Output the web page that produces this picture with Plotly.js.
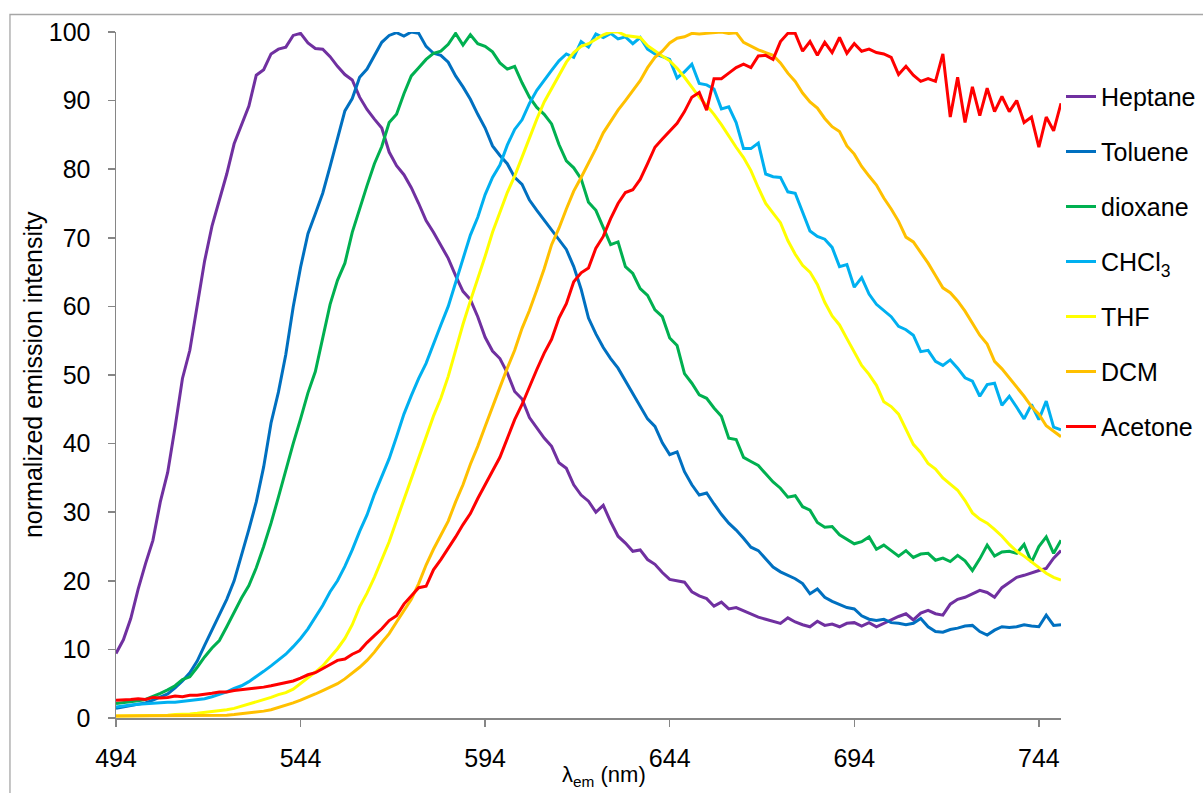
<!DOCTYPE html>
<html>
<head>
<meta charset="utf-8">
<script src="https://cdn.plot.ly/plotly-3.0.1.min.js"></script>
<style>
html,body{margin:0;padding:0;background:#fff;}
#chart{width:1203px;height:793px;}
</style>
</head>
<body>
<div id="chart"></div>
<script>
const wavelength = [
494,496,498,500,502,504,506,508,510,512,
514,516,518,520,522,524,526,528,530,532,
534,536,538,540,542,544,546,548,550,552,
554,556,558,560,562,564,566,568,570,572,
574,576,578,580,582,584,586,588,590,592,
594,596,598,600,602,604,606,608,610,612,
614,616,618,620,622,624,626,628,630,632,
634,636,638,640,642,644,646,648,650,652,
654,656,658,660,662,664,666,668,670,672,
674,676,678,680,682,684,686,688,690,692,
694,696,698,700,702,704,706,708,710,712,
714,716,718,720,722,724,726,728,730,732,
734,736,738,740,742,744,746,748,750];

const heptane = [
9.4,11.4,14.5,18.8,22.5,25.9,31.5,35.8,42.4,49.5,
53.6,60.0,66.6,71.7,75.5,79.3,83.7,86.6,89.2,93.7,
94.5,96.8,97.5,97.8,99.5,99.8,98.4,97.6,97.5,96.4,
95.0,93.8,93.0,90.5,88.7,87.3,86.0,82.5,80.5,79.2,
77.3,75.0,72.5,70.8,68.8,67.0,64.5,62.2,61.0,58.5,
55.5,53.5,52.4,50.3,47.6,46.5,43.8,42.3,40.8,39.6,
37.2,36.4,34.0,32.5,31.6,30.0,31.0,28.6,26.5,25.5,
24.3,24.5,23.1,22.4,21.2,20.2,20.0,19.8,18.4,17.8,
17.4,16.3,16.9,15.9,16.1,15.6,15.1,14.7,14.4,14.1,
13.8,14.6,14.0,13.6,13.3,14.1,13.5,13.7,13.3,13.8,
13.9,13.4,13.9,13.3,13.8,14.4,14.8,15.2,14.3,15.3,
15.7,15.2,15.0,16.6,17.3,17.6,18.1,18.6,18.3,17.6,
19.0,19.7,20.5,20.8,21.2,21.5,21.8,23.3,24.4];

const toluene = [
1.4,1.6,1.8,2.0,2.2,2.6,3.0,3.5,4.4,5.4,
6.6,8.3,10.6,12.9,15.0,17.3,20.0,23.6,27.5,31.5,
36.6,43.0,47.5,53.0,59.9,65.7,70.6,73.5,76.5,80.4,
84.3,88.5,90.3,93.4,94.6,96.6,98.5,99.5,99.9,99.4,
100,99.8,97.9,96.9,96.6,95.6,93.6,92.0,90.2,88.0,
86.0,83.4,82.0,80.8,78.8,77.8,75.5,74.0,72.6,71.2,
69.7,68.3,65.8,62.5,58.3,56.0,54.0,52.4,51.0,49.2,
47.2,45.6,43.6,42.5,40.1,38.4,38.8,35.9,34.0,32.5,
32.8,31.2,29.7,28.4,27.4,26.2,24.9,24.4,23.2,22.0,
21.3,20.8,20.3,19.6,18.1,18.8,17.6,17.0,16.5,16.1,
15.9,14.9,14.4,14.2,14.4,13.9,13.8,13.6,13.8,14.5,
13.3,12.6,12.5,12.9,13.1,13.4,13.5,12.6,12.1,12.8,
13.3,13.2,13.3,13.6,13.4,13.3,15.0,13.5,13.6];

const dioxane = [
2.1,2.2,2.3,2.5,2.7,3.1,3.6,4.1,4.7,5.6,
6.0,7.4,8.9,10.2,11.3,13.3,15.5,17.5,19.3,21.9,
25.0,28.4,32.2,36.2,40.0,43.6,47.4,50.5,55.5,60.3,
63.8,66.3,70.8,74.3,77.6,80.8,83.3,86.8,88.0,91.0,
93.6,94.8,96.0,96.9,97.2,98.2,99.8,98.1,99.6,98.3,
97.9,97.1,95.5,94.6,95.0,92.6,90.5,89.0,88.0,86.6,
83.6,81.2,80.2,78.6,75.2,74.0,71.4,69.0,69.4,65.8,
64.8,62.6,61.6,59.5,58.5,55.4,54.3,50.2,48.8,47.1,
46.6,45.2,44.0,40.8,40.6,38.0,37.4,36.8,35.6,34.4,
33.5,32.2,32.4,30.8,30.3,28.5,27.8,27.9,26.7,26.0,
25.4,25.7,26.4,24.6,25.2,24.4,23.6,24.4,23.4,23.9,
24.0,23.0,23.3,22.8,23.7,22.9,21.5,23.2,25.2,23.6,
24.2,24.3,24.0,25.3,22.7,25.0,26.4,24.0,25.9];

const chcl3 = [
1.6,1.8,1.9,2.0,2.1,2.1,2.2,2.3,2.3,2.4,
2.5,2.6,2.8,3.1,3.4,3.8,4.3,4.7,5.3,6.0,
6.8,7.6,8.4,9.3,10.4,11.6,13.0,14.7,16.4,18.4,
20.0,22.1,24.5,27.2,29.6,32.6,35.2,37.8,41.0,44.3,
47.0,49.5,51.7,54.6,57.3,60.0,63.4,67.0,70.4,73.0,
76.3,78.8,80.6,83.5,85.8,87.2,89.6,91.5,93.0,94.4,
95.8,96.8,96.3,98.6,97.8,99.7,99.2,99.8,99.0,99.3,
98.3,99.2,97.5,96.8,96.4,96.0,93.3,94.2,95.3,92.5,
92.3,91.7,88.8,89.1,86.8,83.0,83.0,83.8,79.3,78.9,
78.8,76.7,76.5,73.7,71.0,70.2,69.8,68.6,65.8,66.1,
62.8,64.2,61.8,60.3,59.4,58.5,57.1,56.6,55.8,53.4,
53.6,52.0,51.4,52.2,51.0,49.6,49.1,46.9,48.6,48.8,
45.6,46.9,45.3,43.6,45.7,43.5,46.2,42.4,42.0];

const thf = [
0.3,0.3,0.3,0.3,0.3,0.35,0.4,0.4,0.5,0.5,
0.6,0.7,0.8,0.9,1.0,1.2,1.4,1.7,2.0,2.3,
2.6,3.0,3.4,3.7,4.2,5.0,5.8,6.7,7.6,8.8,
10.1,11.6,13.6,16.2,18.2,20.5,23.2,25.7,28.8,31.8,
34.8,38.0,41.0,44.0,46.6,49.8,53.6,57.4,60.8,64.0,
67.3,70.8,73.8,76.6,79.0,81.8,84.7,87.3,89.8,91.8,
93.8,95.6,97.0,97.9,98.3,99.0,99.6,100,100,99.5,
99.3,99.2,98.0,97.2,96.5,95.8,94.7,93.4,92.0,90.5,
89.3,88.0,86.5,84.8,83.2,81.7,79.8,77.3,75.0,73.6,
72.2,69.6,67.6,66.0,65.0,63.2,60.6,58.6,57.3,55.3,
53.4,51.4,50.1,48.5,46.1,45.4,44.3,42.2,39.9,38.7,
37.1,36.3,35.0,34.1,33.2,31.7,29.9,29.0,28.4,27.5,
26.5,25.3,24.3,23.6,22.8,22.0,21.1,20.5,20.1];

const dcm = [
0.3,0.3,0.3,0.3,0.3,0.3,0.3,0.3,0.3,0.35,
0.35,0.35,0.35,0.35,0.4,0.4,0.5,0.6,0.7,0.85,
1.0,1.2,1.5,1.8,2.2,2.6,3.0,3.5,4.0,4.5,
5.0,5.7,6.5,7.4,8.4,9.6,11.0,12.3,14.0,15.6,
17.3,19.6,22.3,24.6,26.7,28.7,31.5,34.0,37.0,39.6,
42.5,45.5,48.2,51.0,53.6,56.8,59.4,62.4,65.5,69.0,
71.4,74.2,76.8,78.8,80.8,83.0,85.3,87.0,88.6,90.0,
91.5,92.9,94.8,96.3,97.2,98.4,99.1,99.3,99.8,99.7,
99.8,99.9,100,99.8,99.9,98.5,97.9,97.4,97.0,96.6,
95.5,94.0,92.8,91.1,89.8,88.9,87.4,86.2,85.5,83.4,
82.2,80.4,79.0,77.7,75.8,74.2,72.4,70.1,69.4,67.8,
66.3,64.5,62.7,62.0,60.8,59.3,57.5,55.8,54.5,52.0,
50.9,49.6,48.3,46.9,45.4,44.3,42.6,41.8,41.0];

const acetone = [
2.6,2.6,2.7,2.8,2.7,3.0,2.9,3.0,3.2,3.1,
3.3,3.3,3.4,3.6,3.8,3.8,4.0,4.1,4.3,4.4,
4.5,4.7,4.9,5.1,5.4,5.8,6.3,6.6,7.2,7.7,
8.4,8.6,9.3,9.8,11.0,12.0,13.0,14.2,14.9,16.6,
17.8,19.0,19.2,21.6,23.1,24.7,26.4,28.2,29.8,32.0,
33.9,36.0,38.0,40.7,43.5,45.7,48.3,50.8,53.2,55.2,
58.3,60.4,63.6,64.9,65.6,68.5,70.2,72.8,75.0,76.6,
77.0,78.5,80.8,83.2,84.4,85.6,86.7,88.4,90.5,91.2,
88.6,93.2,93.2,94.0,94.8,95.3,94.8,96.5,96.6,96.0,
98.6,99.8,99.8,97.2,98.6,96.6,98.5,97.0,99.2,96.9,
98.3,97.2,97.5,97.0,96.8,96.3,93.8,95.0,93.7,92.8,
93.2,92.8,96.8,87.6,93.4,86.8,92.0,87.8,91.8,88.4,
90.6,88.4,90.0,86.8,87.6,83.2,87.6,85.6,89.6];

const seriesNames = ['Heptane','Toluene','dioxane','CHCl<sub>3</sub>','THF','DCM','Acetone'];
const seriesData = [heptane, toluene, dioxane, chcl3, thf, dcm, acetone];
const seriesColors = ['#7030A0','#0070C0','#00B050','#00B0F0','#FFFF00','#FFC000','#FF0000'];
const xTicks = [494,544,594,644,694,744];
const yTicks = [0,10,20,30,40,50,60,70,80,90,100];

const FONT = 'Arial, "Liberation Sans", sans-serif';

const traces = seriesData.map((d,i) => ({
  type: 'scatter', mode: 'lines',
  x: wavelength, y: d,
  name: seriesNames[i],
  legendgroup: 'g'+i,
  line: {color: seriesColors[i], width: 3},
  hoverinfo: 'x+y+name'
}));

const layout = {
  width: 1203, height: 793,
  margin: {l:116, r:142, t:32, b:75, pad:0, autoexpand:false},
  paper_bgcolor: '#ffffff', plot_bgcolor: '#ffffff',
  font: {family: FONT, color: '#000000', size: 25},
  showlegend: true,
  legend: {
    x: 1.0, xanchor: 'left', y: 0.939, yanchor: 'top',
    font: {family: FONT, size: 25, color: '#000000'},
    tracegroupgap: 19.5, bgcolor: 'rgba(0,0,0,0)', borderwidth: 0,
    itemwidth: 30
  },
  xaxis: {
    range: [494, 750], tickvals: xTicks, ticktext: xTicks.map(String),
    showgrid: false, zeroline: false,
    showline: true, linecolor: '#868686', linewidth: 1.5,
    ticks: 'outside', ticklen: 7, tickwidth: 1.5, tickcolor: '#868686',
    tickfont: {family: FONT, size: 25, color: '#000000'},
    ticklabelstandoff: 10, fixedrange: true
  },
  yaxis: {
    range: [0, 100], tickvals: yTicks,
    showgrid: false, zeroline: false,
    showline: true, linecolor: '#868686', linewidth: 1.5,
    ticks: 'outside', ticklen: 7, tickwidth: 1.5, tickcolor: '#868686',
    tickfont: {family: FONT, size: 25, color: '#000000'},
    ticklabelstandoff: 12, fixedrange: true
  },
  annotations: [
    {text: 'normalized emission intensity', xref: 'paper', yref: 'paper',
     x: -0.0878, y: 0.5, xanchor: 'center', yanchor: 'middle', textangle: -90,
     showarrow: false, font: {family: FONT, size: 25, color: '#000000'}},
    {text: 'λ<sub>em</sub> (nm)', xref: 'paper', yref: 'paper',
     x: 0.516, y: -0.084, xanchor: 'center', yanchor: 'middle',
     showarrow: false, font: {family: FONT, size: 22, color: '#000000'}}
  ],
  shapes: [
    {type: 'rect', xref: 'paper', yref: 'paper', x0: -0.1122, x1: 1.2, y0: -0.2, y1: 1.0255,
     line: {color: '#A6A6A6', width: 1.3}, fillcolor: 'rgba(0,0,0,0)', layer: 'below'}
  ]
};

Plotly.newPlot('chart', traces, layout, {displayModeBar: false, staticPlot: true});
</script>
</body>
</html>
